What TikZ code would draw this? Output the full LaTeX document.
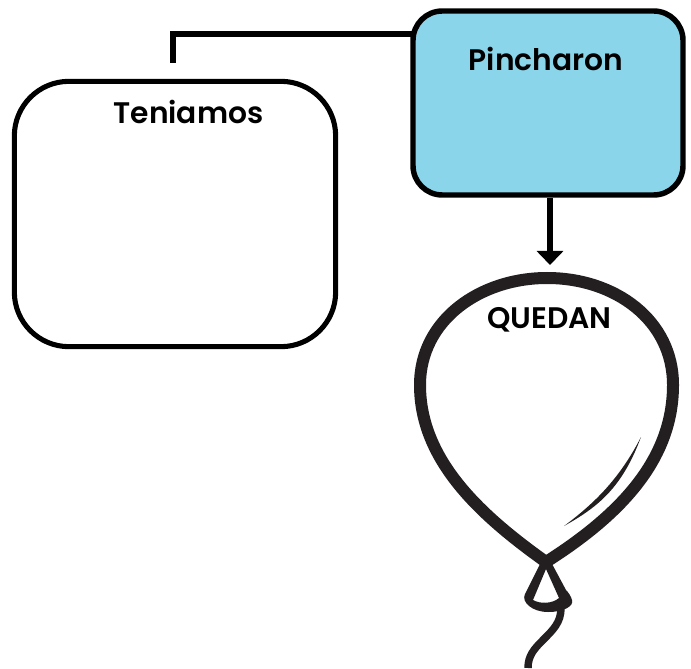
\documentclass[tikz,border=0pt]{standalone}
\usepackage{fontspec}
\setmainfont{Poppins}[BoldFont={* SemiBold}]
\usetikzlibrary{arrows.meta}
\definecolor{skyfill}{HTML}{8AD5EA}
\definecolor{inkdark}{HTML}{231F20}
\tikzset{
    titlelabel/.style={font=\fontsize{22.3}{26}\selectfont\bfseries},
    linkline/.style={line width=4pt},
    balloonline/.style={draw=inkdark,line width=9pt,miter limit=10}
}

\begin{document}
\begin{tikzpicture}[x=0.75pt,y=0.75pt]
    \useasboundingbox (0,0) rectangle (691,668);

    \coordinate (b1) at (546,106);
    \coordinate (b2) at (673,283);
    \coordinate (b3) at (547,390);
    \coordinate (b4) at (420,283);
    \coordinate (c1) at (173,605);
    \coordinate (c2) at (173,634);
    \coordinate (c3) at (413,634);
    \coordinate (c4) at (550,403);

    \node[draw,line width=3.8pt,fill=white,rounded corners=41pt,minimum width=241pt,minimum height=199pt] (teniamosbox) at (175,454) {};
    \node[draw,line width=4.1pt,fill=skyfill,rounded corners=22pt,minimum width=202.5pt,minimum height=138pt] (pincharonbox) at (548,565) {};

    \draw[linkline] (c3) -- (c2) -- (c1);
    \draw[linkline,-{Triangle[width=19.5pt,length=10.5pt]}] (pincharonbox.south -| c4) -- (c4);

    \path[balloonline] (b1)
        .. controls (620,153) and (673,208) .. (b2)
        .. controls (673,348) and (615,390) .. (b3)
        .. controls (480,390) and (420,348) .. (b4)
        .. controls (420,208) and (480,153) .. cycle;

    % shine
    \fill[inkdark] (641,231) .. controls (622,180) and (598,161) .. (564,142)
        .. controls (595,165) and (620,190) .. cycle;

    % knot
    \fill[inkdark,even odd rule] (541,106) -- (525,74)
        .. controls (521,66) and (532,56) .. (548,56)
        .. controls (564,56) and (574,62) .. (572,68)
        .. controls (571,72) and (568,76) .. (566,78)
        -- (551,106) -- cycle
        (546,99) -- (533,68)
        .. controls (540,64) and (552,64) .. (559,70) -- cycle;
    \draw[inkdark,line width=5.6pt] (561,60)
        to[out=270,in=45] (543,28)
        to[out=225,in=90] (528,0);

    \node[titlelabel] (teniamos) at (188.5,556) {Teniamos};
    \node[titlelabel] (pincharon) at (546,609.5) {Pincharon};
    \node[titlelabel] (quedan) at (549.5,348) {QUEDAN};
\end{tikzpicture}
\end{document}
